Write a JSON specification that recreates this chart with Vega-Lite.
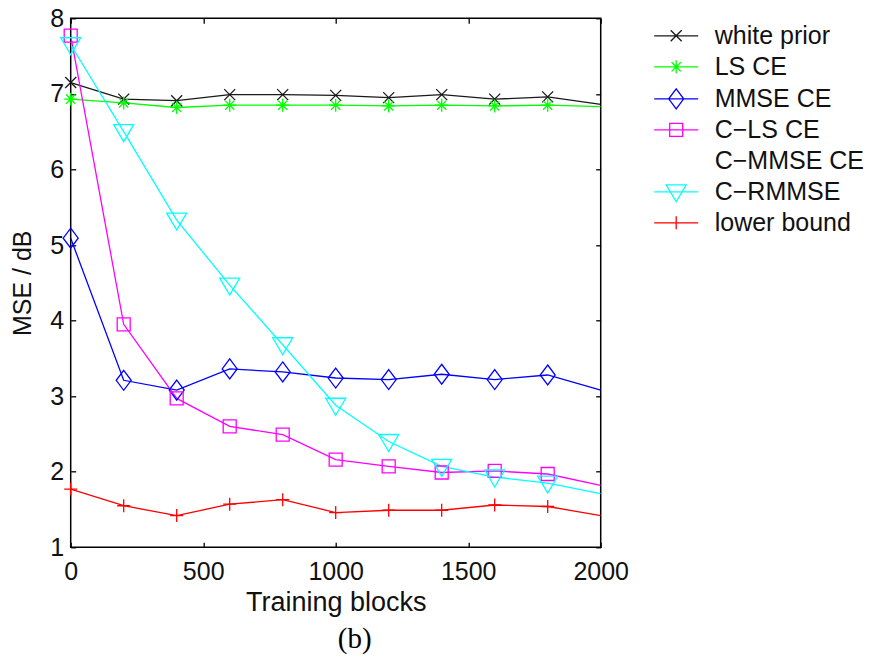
{
  "$schema": "https://vega.github.io/schema/vega-lite/v6.json",
  "width": 530,
  "height": 529,
  "autosize": {"type": "none"},
  "padding": {"left": 70.7, "top": 18.3, "right": 271.3, "bottom": 114.7},
  "background": "white",
  "config": {
    "view": {"stroke": "#000", "strokeWidth": 1.5},
    "font": "Liberation Sans",
    "axis": {"grid": false, "domain": false, "tickColor": "#000", "tickWidth": 1.3, "tickSize": -5, "labelColor": "#111", "titleColor": "#111", "labelFont": "Liberation Sans", "titleFont": "Liberation Sans", "labelFontSize": 25, "titleFontWeight": "normal"}
  },
  "title": {"text": "(b)", "orient": "bottom", "font": "Liberation Serif", "fontSize": 29, "fontWeight": "normal", "color": "#000", "offset": 10, "dx": 19},
  "datasets": {
    "curves": [
      {"series": "white prior", "x": 0, "y": 7.15}, {"series": "white prior", "x": 200, "y": 6.93}, {"series": "white prior", "x": 400, "y": 6.91}, {"series": "white prior", "x": 600, "y": 6.99}, {"series": "white prior", "x": 800, "y": 6.99}, {"series": "white prior", "x": 1000, "y": 6.98}, {"series": "white prior", "x": 1200, "y": 6.95}, {"series": "white prior", "x": 1400, "y": 6.99}, {"series": "white prior", "x": 1600, "y": 6.93}, {"series": "white prior", "x": 1800, "y": 6.96}, {"series": "white prior", "x": 2000, "y": 6.86},
      {"series": "LS CE", "x": 0, "y": 6.93}, {"series": "LS CE", "x": 200, "y": 6.88}, {"series": "LS CE", "x": 400, "y": 6.82}, {"series": "LS CE", "x": 600, "y": 6.85}, {"series": "LS CE", "x": 800, "y": 6.85}, {"series": "LS CE", "x": 1000, "y": 6.85}, {"series": "LS CE", "x": 1200, "y": 6.84}, {"series": "LS CE", "x": 1400, "y": 6.85}, {"series": "LS CE", "x": 1600, "y": 6.84}, {"series": "LS CE", "x": 1800, "y": 6.85}, {"series": "LS CE", "x": 2000, "y": 6.83},
      {"series": "MMSE CE", "x": 0, "y": 5.09}, {"series": "MMSE CE", "x": 200, "y": 3.21}, {"series": "MMSE CE", "x": 400, "y": 3.08}, {"series": "MMSE CE", "x": 600, "y": 3.36}, {"series": "MMSE CE", "x": 800, "y": 3.32}, {"series": "MMSE CE", "x": 1000, "y": 3.24}, {"series": "MMSE CE", "x": 1200, "y": 3.22}, {"series": "MMSE CE", "x": 1400, "y": 3.29}, {"series": "MMSE CE", "x": 1600, "y": 3.22}, {"series": "MMSE CE", "x": 1800, "y": 3.28}, {"series": "MMSE CE", "x": 2000, "y": 3.08},
      {"series": "C\u2212LS CE", "x": 0, "y": 7.77}, {"series": "C\u2212LS CE", "x": 200, "y": 3.95}, {"series": "C\u2212LS CE", "x": 400, "y": 2.97}, {"series": "C\u2212LS CE", "x": 600, "y": 2.6}, {"series": "C\u2212LS CE", "x": 800, "y": 2.49}, {"series": "C\u2212LS CE", "x": 1000, "y": 2.16}, {"series": "C\u2212LS CE", "x": 1200, "y": 2.07}, {"series": "C\u2212LS CE", "x": 1400, "y": 1.99}, {"series": "C\u2212LS CE", "x": 1600, "y": 2.01}, {"series": "C\u2212LS CE", "x": 1800, "y": 1.97}, {"series": "C\u2212LS CE", "x": 2000, "y": 1.82},
      {"series": "C\u2212RMMSE", "x": 0, "y": 7.65}, {"series": "C\u2212RMMSE", "x": 200, "y": 6.5}, {"series": "C\u2212RMMSE", "x": 400, "y": 5.33}, {"series": "C\u2212RMMSE", "x": 600, "y": 4.47}, {"series": "C\u2212RMMSE", "x": 800, "y": 3.68}, {"series": "C\u2212RMMSE", "x": 1000, "y": 2.88}, {"series": "C\u2212RMMSE", "x": 1200, "y": 2.4}, {"series": "C\u2212RMMSE", "x": 1400, "y": 2.07}, {"series": "C\u2212RMMSE", "x": 1600, "y": 1.93}, {"series": "C\u2212RMMSE", "x": 1800, "y": 1.85}, {"series": "C\u2212RMMSE", "x": 2000, "y": 1.71},
      {"series": "lower bound", "x": 0, "y": 1.77}, {"series": "lower bound", "x": 200, "y": 1.55}, {"series": "lower bound", "x": 400, "y": 1.42}, {"series": "lower bound", "x": 600, "y": 1.57}, {"series": "lower bound", "x": 800, "y": 1.63}, {"series": "lower bound", "x": 1000, "y": 1.46}, {"series": "lower bound", "x": 1200, "y": 1.49}, {"series": "lower bound", "x": 1400, "y": 1.49}, {"series": "lower bound", "x": 1600, "y": 1.56}, {"series": "lower bound", "x": 1800, "y": 1.54}, {"series": "lower bound", "x": 2000, "y": 1.42}
    ],
    "names": [
      {"series": "white prior"}, {"series": "LS CE"}, {"series": "MMSE CE"}, {"series": "C\u2212LS CE"}, {"series": "C\u2212MMSE CE"}, {"series": "C\u2212RMMSE"}, {"series": "lower bound"}
    ]
  },
  "layer": [
    {
      "data": {"name": "curves"},
      "mark": {"type": "line", "strokeWidth": 1.3, "clip": true},
      "encoding": {
        "x": {"field": "x", "type": "quantitative", "scale": {"domain": [0, 2000], "nice": false}, "axis": {"orient": "bottom", "values": [0, 500, 1000, 1500, 2000], "format": "d", "labelPadding": 17, "labelFlush": false, "title": "Training blocks", "titleFontSize": 27, "titlePadding": 5}},
        "y": {"field": "y", "type": "quantitative", "scale": {"domain": [1, 8], "nice": false, "zero": false}, "axis": {"orient": "left", "values": [1, 2, 3, 4, 5, 6, 7, 8], "format": "d", "labelPadding": 12, "labelFlush": false, "title": "MSE / dB", "titleFontSize": 25, "titlePadding": 14}},
        "color": {"field": "series", "type": "nominal", "scale": {"domain": ["white prior", "LS CE", "MMSE CE", "C\u2212LS CE", "C\u2212RMMSE", "lower bound"], "range": ["#1a1a1a", "#00ff00", "#0000ff", "#ff00ff", "#00ffff", "#ff0000"]}, "legend": null},
        "detail": {"field": "series"}
      }
    },
    {
      "data": {"name": "curves"},
      "transform": [{"filter": "datum.x < 2000"}],
      "mark": {"type": "point", "filled": false, "size": 400, "strokeWidth": 1.3, "opacity": 1},
      "encoding": {
        "x": {"field": "x", "type": "quantitative", "axis": {"orient": "top", "values": [0, 500, 1000, 1500, 2000], "labels": false, "title": null}},
        "y": {"field": "y", "type": "quantitative", "axis": {"orient": "right", "values": [1, 2, 3, 4, 5, 6, 7, 8], "labels": false, "title": null}},
        "color": {"field": "series", "type": "nominal", "scale": {"domain": ["white prior", "LS CE", "MMSE CE", "C\u2212LS CE", "C\u2212RMMSE", "lower bound"], "range": ["#1a1a1a", "#00ff00", "#0000ff", "#ff00ff", "#00ffff", "#ff0000"]}, "legend": null},
        "shape": {"field": "series", "type": "nominal", "scale": {"domain": ["white prior", "LS CE", "MMSE CE", "C\u2212LS CE", "C\u2212RMMSE", "lower bound"], "range": [
          "M-0.55,-0.55L0.55,0.55M-0.55,0.55L0.55,-0.55",
          "M0,-0.65L0,0.65M-0.65,0L0.65,0M-0.46,-0.46L0.46,0.46M-0.46,0.46L0.46,-0.46",
          "M0,-1L0.75,0L0,1L-0.75,0Z",
          "M-0.65,-0.65L0.65,-0.65L0.65,0.65L-0.65,0.65Z",
          "M-1,-0.7L1,-0.7L0,1Z",
          "M-0.65,0L0.65,0M0,-0.65L0,0.65"
        ]}, "legend": null}
      }
    },
    {
      "data": {"name": "names"},
      "mark": {"type": "point", "filled": false, "size": 400, "strokeWidth": 1.3, "opacity": 0},
      "encoding": {
        "color": {"field": "series", "type": "nominal", "scale": {"domain": ["white prior", "LS CE", "MMSE CE", "C\u2212LS CE", "C\u2212MMSE CE", "C\u2212RMMSE", "lower bound"], "range": ["#1a1a1a", "#00ff00", "#0000ff", "#ff00ff", "transparent", "#00ffff", "#ff0000"]},
          "legend": {"orient": "none", "legendX": 593, "legendY": 5, "title": null, "labelFontSize": 25, "labelFont": "Liberation Sans", "labelColor": "#111", "symbolSize": 400, "symbolStrokeWidth": 1.3, "symbolOpacity": 1, "rowPadding": 5, "labelOffset": 26, "labelLimit": 300}},
        "shape": {"field": "series", "type": "nominal", "scale": {"domain": ["white prior", "LS CE", "MMSE CE", "C\u2212LS CE", "C\u2212MMSE CE", "C\u2212RMMSE", "lower bound"], "range": [
          "M-2.2,0L2.2,0M-0.55,-0.55L0.55,0.55M-0.55,0.55L0.55,-0.55",
          "M-2.2,0L2.2,0M0,-0.65L0,0.65M-0.46,-0.46L0.46,0.46M-0.46,0.46L0.46,-0.46",
          "M-2.2,0L2.2,0M0,-1L0.75,0L0,1L-0.75,0Z",
          "M-2.2,0L2.2,0M-0.65,-0.65L0.65,-0.65L0.65,0.65L-0.65,0.65Z",
          "M-2.2,0L2.2,0",
          "M-2.2,0L2.2,0M-1,-0.7L1,-0.7L0,1Z",
          "M-2.2,0L2.2,0M0,-0.65L0,0.65"
        ]},
          "legend": {"orient": "none", "legendX": 593, "legendY": 5, "title": null, "labelFontSize": 25, "labelFont": "Liberation Sans", "labelColor": "#111", "symbolSize": 400, "symbolStrokeWidth": 1.3, "symbolOpacity": 1, "rowPadding": 5, "labelOffset": 26, "labelLimit": 300}}
      }
    }
  ],
  "resolve": {"scale": {"color": "independent", "shape": "independent"}, "axis": {"x": "independent", "y": "independent"}}
}
